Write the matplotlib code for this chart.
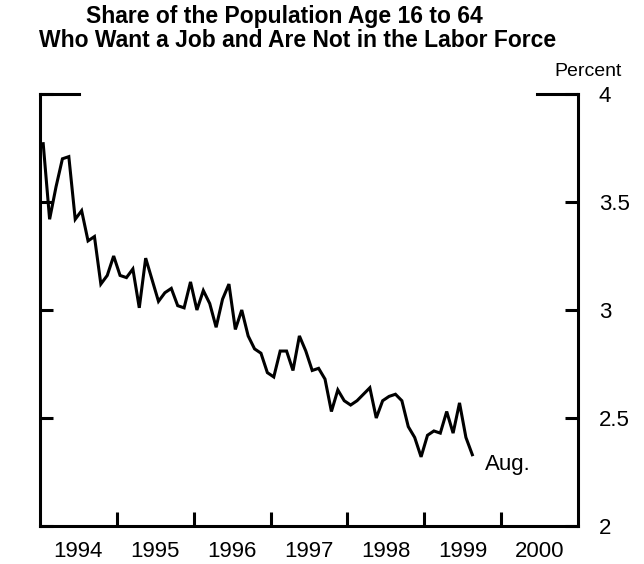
import numpy as np
import matplotlib
matplotlib.use('Agg')
from matplotlib import pyplot as plt

plt.rcParams['font.family'] = ['Liberation Sans', 'DejaVu Sans']

# monthly share (percent), Jan 1994 .. Aug 1999
start_year = 1994
share = [
    3.77, 3.42, 3.57, 3.70, 3.71, 3.42, 3.46, 3.32, 3.34, 3.12, 3.16, 3.25,  # 1994
    3.16, 3.15, 3.19, 3.01, 3.24, 3.14, 3.04, 3.08, 3.10, 3.02, 3.01, 3.13,  # 1995
    3.00, 3.09, 3.03, 2.92, 3.05, 3.12, 2.91, 3.00, 2.88, 2.82, 2.80, 2.71,  # 1996
    2.69, 2.81, 2.81, 2.72, 2.88, 2.81, 2.72, 2.73, 2.68, 2.53, 2.63, 2.58,  # 1997
    2.56, 2.58, 2.61, 2.64, 2.50, 2.58, 2.60, 2.61, 2.58, 2.46, 2.41, 2.32,  # 1998
    2.42, 2.44, 2.43, 2.53, 2.43, 2.57, 2.41, 2.33,                          # 1999
]
years = [1994, 1995, 1996, 1997, 1998, 1999, 2000]
y_ticks = [2, 2.5, 3, 3.5, 4]
y_labels = ['2', '2.5', '3', '3.5', '4']
last_label = 'Aug.'
title_lines = ['Share of the Population Age 16 to 64',
               'Who Want a Job and Are Not in the Labor Force']

# month index -> decimal year (mid-month)
t = start_year + (np.arange(len(share)) + 0.5) / 12

fig = plt.figure(figsize=(6.44, 5.64), dpi=100)
ax = fig.add_axes([40 / 644, 1 - 526 / 564, 538 / 644, 432 / 564])

lw = 2.2
ax.plot(t, share, color='black', lw=lw, solid_joinstyle='miter')
ax.text(t[-1] + 0.17, share[-1] - 0.045, last_label, fontsize=16,
        ha='left', va='center')

ax.set_xlim(years[0], years[-1] + 1)
ax.set_ylim(2, 4)

for side in ['left', 'right', 'bottom']:
    ax.spines[side].set_linewidth(lw)
ax.spines['top'].set_visible(False)
# short top corner pieces
ax.axhline(4, xmin=0, xmax=0.073, color='black', lw=lw, clip_on=False)
ax.axhline(4, xmin=0.923, xmax=1, color='black', lw=lw, clip_on=False)

# x: year boundaries as inward ticks, labels centred in each year
ax.set_xticks(years[1:])
ax.set_xticklabels([])
ax.set_xticks([y + 0.5 for y in years], minor=True)
ax.set_xticklabels([str(y) for y in years], minor=True, fontsize=16)
ax.tick_params(axis='x', which='major', direction='in', length=10, width=lw)
ax.tick_params(axis='x', which='minor', length=0, pad=11)

ax.set_yticks(y_ticks)
ax.set_yticklabels(y_labels, fontsize=16)
ax.tick_params(axis='y', direction='in', length=9.5, width=lw,
               left=True, right=True, labelleft=False, labelright=True, pad=15)

fig.text(284 / 644, 1 - 5 / 564, title_lines[0],
         ha='center', va='top', fontsize=16.5, fontweight='bold')
fig.text(298 / 644, 1 - 29 / 564, title_lines[1],
         ha='center', va='top', fontsize=16.5, fontweight='bold')
fig.text(622 / 644, 1 - 72 / 564, 'Percent', ha='right', va='center', fontsize=14)

fig.savefig('out.png', dpi=100)
